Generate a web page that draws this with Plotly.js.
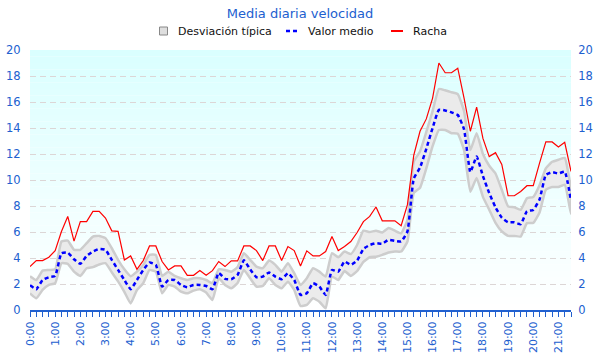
<!DOCTYPE html>
<html>
<head>
<meta charset="utf-8">
<script src="https://cdn.plot.ly/plotly-3.0.1.min.js"></script>
<style>html,body{margin:0;padding:0;background:#fff;}#chart{width:600px;height:360px;}</style>
</head>
<body>
<div id="chart"></div>
<script>
// ---- Data ----
const times = ["0:00","0:15","0:30","0:45","1:00","1:15","1:30","1:45","2:00","2:15","2:30","2:45",
"3:00","3:15","3:30","3:45","4:00","4:15","4:30","4:45","5:00","5:15","5:30","5:45",
"6:00","6:15","6:30","6:45","7:00","7:15","7:30","7:45","8:00","8:15","8:30","8:45",
"9:00","9:15","9:30","9:45","10:00","10:15","10:30","10:45","11:00","11:15","11:30","11:45",
"12:00","12:15","12:30","12:45","13:00","13:15","13:30","13:45","14:00","14:15","14:30","14:45",
"15:00","15:15","15:30","15:45","16:00","16:15","16:30","16:45","17:00","17:15","17:30","17:45",
"18:00","18:15","18:30","18:45","19:00","19:15","19:30","19:45","20:00","20:15","20:30","20:45",
"21:00","21:15","21:30"];

const racha = [3.35,3.8,3.8,4.06,4.57,6.04,7.2,5.3,6.8,6.8,7.58,7.58,
7.07,6.09,6.05,3.85,4.16,3.13,3.8,4.93,4.93,3.73,3.08,3.39,
3.39,2.67,2.67,3.03,2.67,3.03,3.73,3.34,3.78,3.78,4.93,4.93,
4.57,3.8,4.93,4.93,3.8,4.88,4.57,3.39,4.55,4.16,4.16,4.5,
5.65,4.57,4.88,5.27,5.96,6.8,7.2,7.92,6.86,6.86,6.86,6.48,
8.1,11.9,13.75,14.7,16.3,19.0,18.25,18.25,18.6,16.3,13.75,15.6,
13.2,11.8,12.1,11.2,8.79,8.79,9.12,9.56,9.56,11.3,12.93,12.93,
12.54,12.9,10.66];

const valorMedio = [1.9,1.6,2.31,2.52,2.62,4.37,4.42,3.9,3.55,4.16,4.5,4.7,
4.63,3.86,3.08,2.31,1.6,2.31,3.08,3.65,3.47,1.8,2.31,2.31,
1.93,1.75,1.93,1.93,1.85,1.6,2.85,2.4,2.37,2.7,3.82,3.13,
2.52,2.57,2.88,2.57,2.37,2.83,2.31,1.16,1.29,2.06,1.8,1.16,
3.08,2.95,3.73,3.47,3.8,4.7,5.0,5.14,5.1,5.4,5.32,5.27,
6.04,10.1,10.95,12.4,14.0,15.4,15.35,15.2,15.0,13.9,10.6,11.8,
10.3,9.0,7.9,7.1,6.75,6.75,6.6,7.6,7.7,8.5,10.4,10.6,
10.5,10.64,8.4];

const desvSup = [2.6,2.3,3.03,3.08,3.13,5.27,5.34,4.63,4.63,5.14,5.65,5.7,
5.53,4.75,3.86,3.13,2.6,2.95,3.47,4.24,4.24,2.62,2.95,2.62,
2.44,2.31,2.44,2.44,2.31,2.06,3.13,3.08,2.95,3.3,4.37,3.86,
3.34,3.21,3.8,3.47,2.95,3.6,2.83,1.93,2.44,3.21,2.95,2.57,
4.37,4.06,4.5,4.3,5.0,6.1,6.0,6.1,5.96,6.3,6.1,5.9,
6.94,11.4,12.2,13.7,15.3,17.0,16.9,16.75,16.6,15.3,12.3,13.6,
12.0,11.1,10.5,9.25,7.97,7.9,7.71,8.6,8.7,9.6,10.9,11.4,
11.56,11.7,9.2];

const desvInf = [1.28,0.9,1.54,1.93,2.06,3.6,3.55,2.95,2.62,3.21,3.3,3.5,
3.6,2.9,2.2,1.4,0.5,1.54,2.06,3.08,2.95,1.28,1.93,1.8,
1.41,1.28,1.49,1.6,1.34,0.77,2.44,1.93,1.67,2.08,3.08,2.44,
1.8,1.85,2.44,1.93,1.67,2.18,1.54,0.31,0.39,0.9,0.64,0.13,
2.57,2.31,3.0,2.62,3.0,3.7,4.06,4.1,4.24,4.42,4.5,4.5,
5.27,9.0,9.4,10.9,12.6,13.85,13.85,13.6,13.55,12.3,9.1,10.15,
8.7,7.71,6.7,6.04,5.7,5.7,5.65,6.68,6.7,7.5,9.25,9.46,
9.46,9.64,7.4];

const hourTickLabels = ["0:00","1:00","2:00","3:00","4:00","5:00","6:00","7:00","8:00","9:00","10:00",
"11:00","12:00","13:00","14:00","15:00","16:00","17:00","18:00","19:00","20:00","21:00"];

const seriesNames = ["Desviación típica","Valor medio","Racha"];
const chartTitle = "Media diaria velocidad";

// ---- Helpers ----
function toHours(t){ const p = t.split(":"); return Number(p[0]) + Number(p[1])/60; }
const xs = times.map(toHours);
const tickVals = hourTickLabels.map(toHours);

const blue = "#2160cf";

const bandX = xs.concat(xs.slice().reverse());
const bandY = desvSup.concat(desvInf.slice().reverse());

const traces = [
  {x: bandX, y: bandY, type: "scatter", mode: "lines", fill: "toself",
   fillcolor: "#ebebeb", line: {color: "#cdcdcd", width: 2.5, shape: "spline", smoothing: 0.4},
   name: seriesNames[0], hoverinfo: "skip", showlegend: false},
  {x: xs, y: valorMedio, type: "scatter", mode: "lines",
   line: {color: "#0000ff", width: 2.5, dash: "4px,3px", shape: "spline", smoothing: 0.4},
   name: seriesNames[1], showlegend: false},
  {x: xs, y: racha, type: "scatter", mode: "lines",
   line: {color: "#ff0000", width: 1.2},
   name: seriesNames[2], showlegend: false},
  {x: xs, y: racha, type: "scatter", mode: "lines", yaxis: "y2",
   line: {color: "rgba(0,0,0,0)", width: 0}, showlegend: false, hoverinfo: "skip"}
];

// plot-area geometry (pixels) for the hand-made legend
const L = 30, R = 571, T = 50, B = 310;
const px = v => (v - L) / (R - L);
const py = v => (B - v) / (B - T);

// background gradient strips (light cyan at top fading to white)
const shapes = [];
const nStrips = 40;
for (let i = 0; i < nStrips; i++) {
  const y0 = 20 * i / nStrips, y1 = 20 * (i + 1) / nStrips;
  const f = (y0 + y1) / 2 / 20;
  const r = Math.round(255 - 37 * f);
  shapes.push({type: "rect", xref: "paper", yref: "y", x0: 0, x1: 1, y0: y0, y1: y1,
    fillcolor: "rgb(" + r + ",255,255)", line: {width: 0}, layer: "below"});
}

// legend icons
const legY = 31;
shapes.push({type: "rect", xref: "paper", yref: "paper", x0: px(159.5), x1: px(167.5),
  y0: py(legY + 4), y1: py(legY - 4), fillcolor: "#dedede", line: {color: "#888888", width: 1}});
shapes.push({type: "line", xref: "paper", yref: "paper", x0: px(286), x1: px(299),
  y0: py(legY), y1: py(legY), line: {color: "#0000ff", width: 2.5, dash: "4px,3px"}});
shapes.push({type: "line", xref: "paper", yref: "paper", x0: px(391), x1: px(403),
  y0: py(legY), y1: py(legY), line: {color: "#ff0000", width: 2}});

const legFont = {family: "DejaVu Sans", size: 11, color: "#111111"};
const annotations = [
  {text: seriesNames[0], xref: "paper", yref: "paper", x: px(176), y: py(legY), xanchor: "left", yanchor: "middle", showarrow: false, font: legFont},
  {text: seriesNames[1], xref: "paper", yref: "paper", x: px(306), y: py(legY), xanchor: "left", yanchor: "middle", showarrow: false, font: legFont},
  {text: seriesNames[2], xref: "paper", yref: "paper", x: px(411), y: py(legY), xanchor: "left", yanchor: "middle", showarrow: false, font: legFont}
];

const layout = {
  width: 600, height: 360,
  margin: {l: L, r: 600 - R, t: T, b: 360 - B, pad: 0},
  paper_bgcolor: "#ffffff", plot_bgcolor: "#ffffff",
  font: {family: "DejaVu Sans", size: 11, color: blue},
  title: {text: chartTitle, x: 0.5, xanchor: "center", y: 0.964, yanchor: "middle",
          font: {family: "DejaVu Sans", size: 13, color: blue}},
  showlegend: false,
  xaxis: {range: [0, 21.5], tickmode: "array", tickvals: tickVals, ticktext: hourTickLabels,
          tickangle: -90, ticks: "outside", ticklen: 5, tickwidth: 1, tickcolor: blue,
          showline: true, linecolor: blue, linewidth: 2, showgrid: false, zeroline: false,
          tickfont: {family: "DejaVu Sans", size: 11, color: blue},
          minor: {tickmode: "linear", tick0: 0, dtick: 0.25, ticks: "outside", ticklen: 5,
                  tickwidth: 1, tickcolor: blue, showgrid: false},
          fixedrange: true},
  yaxis: {range: [0, 20], dtick: 2, tick0: 0, showgrid: true, gridcolor: "#dcd6d6",
          gridwidth: 1, griddash: "6px,4px", zeroline: false, showline: false,
          ticks: "outside", ticklen: 6, tickcolor: "rgba(0,0,0,0)",
          tickfont: {family: "DejaVu Sans", size: 11.5, color: blue}, fixedrange: true},
  yaxis2: {range: [0, 20], dtick: 2, tick0: 0, overlaying: "y", side: "right",
           showgrid: false, zeroline: false, showline: false,
           ticks: "outside", ticklen: 4, tickcolor: "rgba(0,0,0,0)",
           tickfont: {family: "DejaVu Sans", size: 11.5, color: blue}, fixedrange: true},
  shapes: shapes,
  annotations: annotations
};

Plotly.newPlot("chart", traces, layout, {displayModeBar: false, staticPlot: true});
</script>
</body>
</html>
